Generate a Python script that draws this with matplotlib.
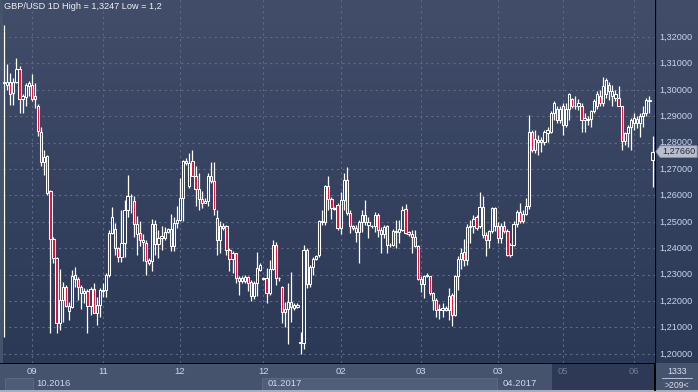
import numpy as np
import matplotlib
matplotlib.use('Agg')
import matplotlib.pyplot as plt
from matplotlib.patches import Rectangle, Polygon

plt.rcParams['font.family'] = ['Liberation Sans', 'DejaVu Sans']

# daily candles, GBP/USD
opens = [1.3025,
    1.3020, 1.3030, 1.2989, 1.3030, 1.3077, 1.2966, 1.2973, 1.3014, 1.3020, 1.2966,
    1.2938, 1.2841, 1.2725, 1.2748, 1.2615, 1.2434, 1.2362, 1.2118, 1.2204, 1.2252,
    1.2163, 1.2178, 1.2297, 1.2282, 1.2252, 1.2232, 1.2239, 1.2182, 1.2247, 1.2156,
    1.2185, 1.2239, 1.2242, 1.2300, 1.2457, 1.2472, 1.2400, 1.2366, 1.2419, 1.2546,
    1.2599, 1.2577,
    1.2455, 1.2458, 1.2422, 1.2420, 1.2344, 1.2350, 1.2493, 1.2417, 1.2439, 1.2439,
    1.2463, 1.2473, 1.2410, 1.2496, 1.2508, 1.2590, 1.2723, 1.2635, 1.2729, 1.2672,
    1.2624, 1.2587, 1.2571, 1.2578, 1.2675, 1.2654, 1.2515, 1.2430, 1.2486, 1.2486,
    1.2395, 1.2359, 1.2382, 1.2287, 1.2275, 1.2275, 1.2291, 1.2271, 1.2220, 1.2268,
    1.2319,
    1.2282, 1.2286, 1.2229, 1.2321, 1.2412, 1.2286, 1.2254, 1.2160, 1.2168, 1.2197,
    1.2175, 1.2179, 1.2042, 1.2042, 1.2393, 1.2264, 1.2330, 1.2358, 1.2374, 1.2501,
    1.2501, 1.2636, 1.2585, 1.2551, 1.2562, 1.2478, 1.2583, 1.2658, 1.2535, 1.2484,
    1.2475, 1.2463, 1.2501, 1.2526, 1.2488, 1.2484, 1.2484, 1.2526, 1.2469, 1.2454,
    1.2484, 1.2412,
    1.2413, 1.2460, 1.2460, 1.2470, 1.2548, 1.2455, 1.2455, 1.2442, 1.2407, 1.2283,
    1.2265, 1.2293, 1.2293, 1.2230, 1.2202, 1.2167, 1.2167, 1.2167, 1.2167, 1.2224,
    1.2148, 1.2293, 1.2359, 1.2384, 1.2356, 1.2479, 1.2483, 1.2520, 1.2483, 1.2556,
    1.2451, 1.2432, 1.2464, 1.2551, 1.2483, 1.2438, 1.2483, 1.2467, 1.2375, 1.2413,
    1.2493, 1.2538,
    1.2502, 1.2530, 1.2560, 1.2842, 1.2773, 1.2801, 1.2801, 1.2801, 1.2838, 1.2842,
    1.2912, 1.2927, 1.2886, 1.2939, 1.2867, 1.2927, 1.2965, 1.2937, 1.2937, 1.2939,
    1.2884, 1.2889, 1.2889, 1.2918, 1.2939, 1.2975, 1.2949, 1.2985, 1.3019, 1.2975,
    1.2968, 1.2968, 1.2937, 1.2808, 1.2836, 1.2861, 1.2876, 1.2889, 1.2876, 1.2899,
    1.2912, 1.2956, 1.2733]
highs = [1.3247,
    1.3096, 1.3065, 1.3046, 1.3119, 1.3090, 1.2986, 1.3027, 1.3033, 1.3061, 1.3027,
    1.2948, 1.2859, 1.2773, 1.2754, 1.2622, 1.2444, 1.2368, 1.2320, 1.2273, 1.2261,
    1.2197, 1.2318, 1.2328, 1.2292, 1.2261, 1.2248, 1.2244, 1.2252, 1.2267, 1.2216,
    1.2248, 1.2267, 1.2305, 1.2470, 1.2556, 1.2497, 1.2406, 1.2546, 1.2584, 1.2678,
    1.2606, 1.2596,
    1.2521, 1.2502, 1.2452, 1.2433, 1.2363, 1.2511, 1.2508, 1.2470, 1.2483, 1.2481,
    1.2477, 1.2531, 1.2518, 1.2559, 1.2666, 1.2736, 1.2742, 1.2761, 1.2773, 1.2710,
    1.2685, 1.2616, 1.2590, 1.2685, 1.2726, 1.2726, 1.2546, 1.2502, 1.2496, 1.2489,
    1.2401, 1.2388, 1.2382, 1.2294, 1.2294, 1.2300, 1.2294, 1.2281, 1.2275, 1.2385,
    1.2344,
    1.2292, 1.2324, 1.2355, 1.2431, 1.2425, 1.2292, 1.2257, 1.2197, 1.2269, 1.2311,
    1.2194, 1.2191, 1.2084, 1.2412, 1.2400, 1.2336, 1.2368, 1.2374, 1.2507, 1.2545,
    1.2639, 1.2673, 1.2595, 1.2557, 1.2570, 1.2614, 1.2684, 1.2709, 1.2545, 1.2488,
    1.2488, 1.2507, 1.2545, 1.2583, 1.2519, 1.2488, 1.2538, 1.2532, 1.2482, 1.2488,
    1.2488, 1.2418,
    1.2472, 1.2508, 1.2508, 1.2561, 1.2568, 1.2464, 1.2470, 1.2470, 1.2411, 1.2293,
    1.2299, 1.2306, 1.2296, 1.2236, 1.2211, 1.2190, 1.2192, 1.2180, 1.2249, 1.2230,
    1.2299, 1.2369, 1.2401, 1.2435, 1.2491, 1.2508, 1.2527, 1.2527, 1.2613, 1.2596,
    1.2460, 1.2470, 1.2558, 1.2558, 1.2498, 1.2495, 1.2502, 1.2472, 1.2419, 1.2502,
    1.2546, 1.2571,
    1.2545, 1.2590, 1.2905, 1.2848, 1.2848, 1.2830, 1.2823, 1.2848, 1.2861, 1.2918,
    1.2956, 1.2939, 1.2937, 1.2949, 1.2949, 1.2987, 1.2968, 1.2975, 1.2965, 1.2949,
    1.2912, 1.2899, 1.2925, 1.2965, 1.2997, 1.3000, 1.3048, 1.3044, 1.3030, 1.3019,
    1.3000, 1.3015, 1.2939, 1.2842, 1.2867, 1.2893, 1.2912, 1.2899, 1.2912, 1.2937,
    1.2968, 1.2975, 1.2825]
lows = [1.2062,
    1.3001, 1.2944, 1.2944, 1.3027, 1.2913, 1.2913, 1.2938, 1.2976, 1.2957, 1.2932,
    1.2824, 1.2713, 1.2678, 1.2603, 1.2080, 1.2343, 1.2077, 1.2092, 1.2122, 1.2178,
    1.2128, 1.2172, 1.2254, 1.2204, 1.2168, 1.2191, 1.2080, 1.2147, 1.2153, 1.2109,
    1.2138, 1.2216, 1.2216, 1.2292, 1.2454, 1.2375, 1.2349, 1.2349, 1.2368, 1.2520,
    1.2533, 1.2444,
    1.2376, 1.2407, 1.2350, 1.2300, 1.2338, 1.2313, 1.2376, 1.2363, 1.2395, 1.2433,
    1.2458, 1.2388, 1.2388, 1.2477, 1.2502, 1.2502, 1.2717, 1.2628, 1.2672, 1.2559,
    1.2546, 1.2553, 1.2571, 1.2559, 1.2647, 1.2527, 1.2376, 1.2382, 1.2470, 1.2376,
    1.2313, 1.2306, 1.2268, 1.2224, 1.2268, 1.2268, 1.2237, 1.2199, 1.2208, 1.2218,
    1.2313,
    1.2280, 1.2191, 1.2223, 1.2317, 1.2261, 1.2277, 1.2118, 1.2103, 1.2036, 1.2122,
    1.2166, 1.2172, 1.2000, 1.2017, 1.2248, 1.2252, 1.2298, 1.2355, 1.2368, 1.2488,
    1.2488, 1.2545, 1.2509, 1.2545, 1.2469, 1.2454, 1.2545, 1.2526, 1.2456, 1.2469,
    1.2425, 1.2343, 1.2463, 1.2488, 1.2437, 1.2475, 1.2463, 1.2444, 1.2381, 1.2437,
    1.2383, 1.2406,
    1.2407, 1.2401, 1.2419, 1.2464, 1.2455, 1.2445, 1.2382, 1.2404, 1.2281, 1.2236,
    1.2211, 1.2291, 1.2224, 1.2167, 1.2139, 1.2132, 1.2139, 1.2161, 1.2129, 1.2106,
    1.2144, 1.2240, 1.2321, 1.2331, 1.2337, 1.2419, 1.2457, 1.2470, 1.2476, 1.2438,
    1.2371, 1.2401, 1.2457, 1.2464, 1.2419, 1.2419, 1.2457, 1.2369, 1.2366, 1.2407,
    1.2479, 1.2495,
    1.2495, 1.2525, 1.2550, 1.2766, 1.2760, 1.2754, 1.2766, 1.2792, 1.2801, 1.2836,
    1.2886, 1.2876, 1.2873, 1.2830, 1.2861, 1.2886, 1.2931, 1.2927, 1.2922, 1.2842,
    1.2842, 1.2867, 1.2861, 1.2912, 1.2927, 1.2937, 1.2937, 1.2968, 1.2962, 1.2937,
    1.2956, 1.2937, 1.2773, 1.2792, 1.2785, 1.2773, 1.2848, 1.2855, 1.2823, 1.2861,
    1.2899, 1.2912, 1.2632]
closes = [1.3030,
    1.3030, 1.2986, 1.3030, 1.3077, 1.2966, 1.2976, 1.3020, 1.3027, 1.2966, 1.2978,
    1.2843, 1.2727, 1.2746, 1.2611, 1.2434, 1.2362, 1.2118, 1.2204, 1.2252, 1.2182,
    1.2181, 1.2295, 1.2282, 1.2252, 1.2232, 1.2239, 1.2182, 1.2247, 1.2156, 1.2185,
    1.2242, 1.2242, 1.2300, 1.2457, 1.2520, 1.2400, 1.2366, 1.2419, 1.2546, 1.2599,
    1.2596, 1.2492,
    1.2493, 1.2433, 1.2433, 1.2350, 1.2354, 1.2493, 1.2417, 1.2439, 1.2445, 1.2463,
    1.2473, 1.2410, 1.2496, 1.2508, 1.2590, 1.2729, 1.2729, 1.2723, 1.2672, 1.2624,
    1.2587, 1.2571, 1.2578, 1.2675, 1.2654, 1.2549, 1.2430, 1.2486, 1.2477, 1.2395,
    1.2359, 1.2382, 1.2287, 1.2275, 1.2287, 1.2291, 1.2268, 1.2220, 1.2268, 1.2325,
    1.2338,
    1.2288, 1.2229, 1.2321, 1.2412, 1.2286, 1.2287, 1.2160, 1.2168, 1.2197, 1.2179,
    1.2185, 1.2184, 1.2046, 1.2393, 1.2264, 1.2330, 1.2358, 1.2372, 1.2503, 1.2503,
    1.2636, 1.2585, 1.2551, 1.2548, 1.2478, 1.2583, 1.2658, 1.2535, 1.2484, 1.2478,
    1.2463, 1.2501, 1.2526, 1.2501, 1.2501, 1.2485, 1.2526, 1.2469, 1.2454, 1.2482,
    1.2412, 1.2413,
    1.2464, 1.2467, 1.2472, 1.2546, 1.2457, 1.2460, 1.2442, 1.2407, 1.2283, 1.2265,
    1.2296, 1.2299, 1.2230, 1.2202, 1.2167, 1.2169, 1.2173, 1.2173, 1.2220, 1.2148,
    1.2293, 1.2359, 1.2382, 1.2356, 1.2479, 1.2483, 1.2510, 1.2476, 1.2556, 1.2451,
    1.2432, 1.2464, 1.2551, 1.2483, 1.2438, 1.2483, 1.2467, 1.2375, 1.2413, 1.2493,
    1.2538, 1.2502,
    1.2530, 1.2560, 1.2842, 1.2773, 1.2813, 1.2811, 1.2811, 1.2842, 1.2848, 1.2912,
    1.2949, 1.2886, 1.2927, 1.2867, 1.2927, 1.2985, 1.2937, 1.2939, 1.2949, 1.2886,
    1.2893, 1.2884, 1.2918, 1.2956, 1.2985, 1.2949, 1.3015, 1.3038, 1.2997, 1.2997,
    1.2985, 1.2937, 1.2808, 1.2836, 1.2861, 1.2886, 1.2893, 1.2876, 1.2899, 1.2912,
    1.2962, 1.2962, 1.2766]

tick_idx = [9, 32, 57, 84, 109, 135, 160, 181, 204]
tick_labels = ['09', '11', '12', '12', '02', '03', '03', '05', '06']
period_idx = [9, 84, 160]
period_labels = ['10.2016', '01.2017', '04.2017']
price_levels = [1.20, 1.21, 1.22, 1.23, 1.24, 1.25, 1.26, 1.27, 1.28, 1.29, 1.30, 1.31, 1.32]
last_price = 1.27660

W, H = 698, 392
fig = plt.figure(figsize=(W / 100, H / 100), dpi=100)
fig.patch.set_facecolor('#46536d')

def frac(x0, y0, x1, y1):
    return [x0 / W, 1 - y1 / H, (x1 - x0) / W, (y1 - y0) / H]

n = len(closes)
x = np.arange(n)
x_lo = -0.35
x_hi = n - 1 + 0.8

ax = fig.add_axes(frac(3, 0, 655, 363))
ax_r = fig.add_axes(frac(655, 0, 698, 363))
ax_b = fig.add_axes(frac(0, 363, 698, 392))

grad = np.linspace(0, 1, 256).reshape(-1, 1)
from matplotlib.colors import LinearSegmentedColormap
bg = LinearSegmentedColormap.from_list('bg', ['#414d69', '#2b3856'])
ylo, yhi = 1.19652, 1.33402
for a in (ax, ax_r):
    a.imshow(grad, aspect='auto', cmap=bg, extent=[0, 1, 0, 1], transform=a.transAxes, zorder=0)

# grid
for p in price_levels:
    ax.axhline(p, color='#5d6a86', lw=0.8, ls=(0, (2, 3)), zorder=1)
for t in tick_idx:
    ax.axvline(t, color='#5d6a86', lw=0.8, ls=(0, (2, 3)), zorder=1)

o = np.array(opens)
c = np.array(closes)
hi = np.array(highs)
lo = np.array(lows)
up = c >= o
ax.vlines(x, lo, hi, color='white', lw=0.9, zorder=2)
body_lo = np.minimum(o, c)
body_h = np.maximum(np.abs(c - o), 0.00003)
ax.bar(x[up], body_h[up], bottom=body_lo[up], width=0.72, color='#34415e',
       edgecolor='white', linewidth=0.75, zorder=3)
ax.bar(x[~up], body_h[~up], bottom=body_lo[~up], width=0.72, color='#e0103c',
       edgecolor='white', linewidth=0.75, zorder=3)

ax.set_xlim(x_lo, x_hi)
ax.set_ylim(ylo, yhi)
ax.set_xticks([])
ax.set_yticks([])
for s in ax.spines.values():
    s.set_visible(False)

ax.text(0.002, 0.995, 'GBP/USD 1D High = 1,3247 Low = 1,2', transform=ax.transAxes,
        ha='left', va='top', color='#eef1f6', fontsize=6.6, zorder=5)

# right price axis
ax_r.set_ylim(ylo, yhi)
ax_r.set_xlim(0, 1)
ax_r.set_xticks([])
ax_r.set_yticks([])
for s in ax_r.spines.values():
    s.set_visible(False)
ax_r.axvline(0.0, color='black', lw=1.6, zorder=4)
for p in price_levels:
    ax_r.text(0.1, p, ('%.5f' % p).replace('.', ','), ha='left', va='center',
              color='#c8d6ee', fontsize=6.6, zorder=2)
tag = Polygon([(0.02, last_price), (0.12, last_price + 0.0022), (0.98, last_price + 0.0022),
               (0.98, last_price - 0.0022), (0.12, last_price - 0.0022)],
              closed=True, facecolor='#b9bec8', edgecolor='#8c93a3', lw=0.6, zorder=5)
ax_r.add_patch(tag)
ax_r.text(0.16, last_price, ('%.5f' % last_price).replace('.', ','), ha='left', va='center',
          color='#1e2a44', fontsize=6.6, zorder=6)

# bottom time axis
ax_b.set_xlim(0, W)
ax_b.set_ylim(29, 0)
ax_b.axis('off')
ax_b.add_patch(Rectangle((0, 0), W, 29, facecolor='#46536d', edgecolor='none', zorder=0))
ax_b.add_patch(Rectangle((552, 0), 103, 27, facecolor='#2d3955', edgecolor='none', zorder=1))
ax_b.add_patch(Rectangle((5, 15), 28, 12, facecolor='#4f5c76', edgecolor='#5e6b84', lw=0.6, zorder=1))
ax_b.add_patch(Rectangle((262, 15), 235, 12, facecolor='#515e78', edgecolor='#5e6b84', lw=0.6, zorder=1))
ax_b.add_patch(Rectangle((0, 27), W, 2, facecolor='#a7aebb', edgecolor='none', zorder=2))
ax_b.plot([0, 655], [0.3, 0.3], color='black', lw=1.4, zorder=3)
ax_b.plot([655, 655], [0, 27], color='black', lw=1.4, zorder=3)
ax_b.plot([662, 692], [15, 15], color='#c8d4ea', lw=0.6, zorder=3)
ax_b.text(677, 8, '1333', ha='center', va='center', color='#d8e0ee', fontsize=6.3, zorder=4)
ax_b.text(677, 22, '>209<', ha='center', va='center', color='#d8e0ee', fontsize=6.3, zorder=4)

def to_px(i):
    return 3 + (i - x_lo) / (x_hi - x_lo) * 652

for t, lab in zip(tick_idx, tick_labels):
    col = '#6d7b96' if lab in ('05', '06') and t > 170 else '#cdd8ec'
    ax_b.text(to_px(t), 8, lab, ha='center', va='center', color=col, fontsize=6.8, zorder=4)
for t, lab in zip(period_idx, period_labels):
    ax_b.text(to_px(t) + 4, 21, lab, ha='left', va='center', color='#cdd8ec', fontsize=6.8, zorder=4)

fig.savefig('out.png', dpi=100, facecolor=fig.get_facecolor())
